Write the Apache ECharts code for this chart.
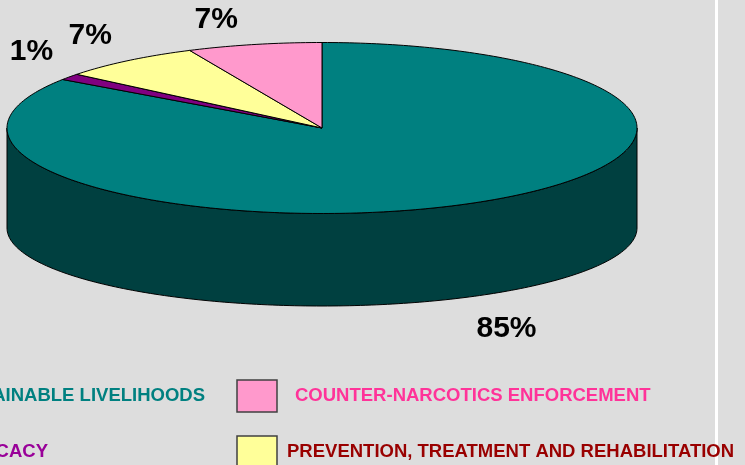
<!DOCTYPE html>
<html>
<head>
<meta charset="utf-8">
<script src="https://cdn.jsdelivr.net/npm/echarts@6/dist/echarts.min.js"></script>
<style>
  html, body { margin: 0; padding: 0; background: #dddddd; }
  #chart { width: 745px; height: 465px; }
</style>
</head>
<body>
<div id="chart"></div>
<script>
// slices, clockwise from 12 o'clock
const categories = ['SUSTAINABLE LIVELIHOODS', 'ADVOCACY', 'PREVENTION, TREATMENT AND REHABILITATION', 'COUNTER-NARCOTICS ENFORCEMENT']
const shares = [84.6, 1.2, 7.3, 6.9]
const sliceColors = ['#008080', '#800080', '#ffff99', '#ff99cc']
const legendTextColors = ['#008080', '#990099', '#990000', '#ff3399']

// pie geometry
const cx = 322
const cy = 128
const rx = 315
const ry = 85.5
const depth = 100
const ryBottom = 78

const font = 'bold 18.5px "Liberation Sans", Arial, sans-serif'
const labelFont = 'bold 30px "Liberation Sans", Arial, sans-serif'

const total = shares.reduce((a, b) => a + b, 0)

function darken(hex, k) {
  const n = parseInt(hex.slice(1), 16)
  const r = Math.round(((n >> 16) & 255) * k)
  const g = Math.round(((n >> 8) & 255) * k)
  const b = Math.round((n & 255) * k)
  return 'rgb(' + r + ',' + g + ',' + b + ')'
}

function topPt(deg) {
  const t = deg * Math.PI / 180
  return [cx + rx * Math.sin(t), cy - ry * Math.cos(t)]
}
function botPt(deg) {
  const t = deg * Math.PI / 180
  return [cx + rx * Math.sin(t), cy + depth - ryBottom * Math.cos(t)]
}
function arc(fn, a, b) {
  const pts = []
  const steps = Math.max(2, Math.ceil(Math.abs(b - a)))
  for (let i = 0; i <= steps; i++) {
    pts.push(fn(a + (b - a) * i / steps))
  }
  return pts
}

function renderItem(params, api) {
  const i = params.dataIndex
  let before = 0
  for (let k = 0; k < i; k++) before += shares[k]
  const start = before / total * 360
  const end = start + api.value(0) / total * 360
  const color = sliceColors[i]
  const children = []

  // front wall
  const a = Math.max(start, 90)
  const b = Math.min(end, 270)
  if (b > a) {
    const pts = arc(topPt, a, b).concat(arc(botPt, b, a))
    children.push({
      type: 'polygon',
      z2: 1,
      shape: { points: pts },
      style: { fill: darken(color, 0.5), stroke: '#000', lineWidth: 1 }
    })
  }

  // top face
  children.push({
    type: 'polygon',
    z2: 2,
    shape: { points: [[cx, cy]].concat(arc(topPt, start, end)) },
    style: { fill: color, stroke: '#000', lineWidth: 1 }
  })

  // percent label
  const mid = (start + end) / 2
  const t = mid * Math.PI / 180
  const s = Math.sin(t)
  const c = Math.cos(t)
  const edge = c < 0 ? botPt(mid) : topPt(mid)
  children.push({
    type: 'text',
    z2: 3,
    x: edge[0] + 38 * Math.sign(s),
    y: edge[1] + (c < 0 ? 32 : -25),
    style: {
      text: Math.round(api.value(0) / total * 100) + '%',
      fill: '#000',
      font: labelFont,
      align: 'center',
      verticalAlign: 'middle'
    }
  })

  return { type: 'group', children: children }
}

// legend: two rows, two columns (left column cut by the frame)
const legendSlots = [
  { box: null, textX: 205, textY: 396, align: 'right' },
  { box: null, textX: 48, textY: 452, align: 'right' },
  { box: [237, 436], textX: 287, textY: 452, align: 'left' },
  { box: [237, 380], textX: 295, textY: 396, align: 'left' }
]

const graphics = [
  { type: 'rect', left: 715, top: 0, shape: { width: 3, height: 465 }, style: { fill: '#ffffff' } }
]
categories.forEach((name, i) => {
  const slot = legendSlots[i]
  if (slot.box) {
    graphics.push({
      type: 'rect',
      x: slot.box[0],
      y: slot.box[1],
      shape: { width: 40, height: 32 },
      style: { fill: sliceColors[i], stroke: '#404040', lineWidth: 1.5 }
    })
  }
  graphics.push({
    type: 'text',
    x: slot.textX,
    y: slot.textY,
    style: {
      text: name,
      fill: legendTextColors[i],
      font: font,
      align: slot.align,
      verticalAlign: 'middle'
    }
  })
})

const chart = echarts.init(document.getElementById('chart'))
chart.setOption({
  backgroundColor: '#dddddd',
  animation: false,
  graphic: graphics,
  series: [{
    type: 'custom',
    coordinateSystem: 'none',
    renderItem: renderItem,
    data: shares.map((v, i) => ({ name: categories[i], value: [v] }))
  }]
})
</script>
</body>
</html>
